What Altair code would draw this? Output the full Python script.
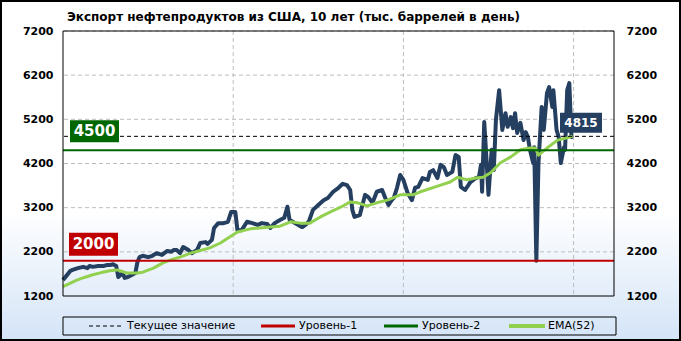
import altair as alt
import pandas as pd

title_text = "Экспорт нефтепродуктов из США, 10 лет (тыс. баррелей в день)"
x_tick_weeks = [0, 160, 320, 480]
x_tick_labels = ["30.01.2009", "24.02.2012", "20.03.2015", "09.05.2018"]
y_ticks = [1200, 2200, 3200, 4200, 5200, 6200, 7200]
level1 = 2000
level2 = 4500
legend_labels = ["Текущее значение", "Уровень-1", "Уровень-2", "EMA(52)"]

dark_weeks = [0, 3, 7, 9, 14, 19, 23, 25, 28, 33, 38, 41, 44, 47, 50, 52, 56, 58, 61, 65,
              68, 70, 72, 75, 80, 84, 88, 93, 98, 102, 104, 107, 110, 113, 118, 121, 126, 129, 134, 136,
              140, 142, 146, 151, 155, 158, 162, 164, 168, 173, 178, 183, 187, 192, 195, 199, 204, 208, 211, 213,
              216, 221, 225, 228, 231, 235, 240, 245, 249, 254, 259, 263, 267, 270, 272, 274, 279, 284, 287, 291,
              295, 300, 303, 306, 309, 311, 314, 317, 320, 324, 328, 331, 334, 338, 343, 345, 348, 352, 355, 358,
              361, 366, 369, 372, 374, 378, 383, 388, 391, 393, 394, 396, 398, 400, 403, 405, 407, 410, 413, 416,
              418, 421, 423, 425, 427, 430, 433, 435, 437, 439, 442, 443, 445, 447, 450, 452, 455, 457, 460, 461,
              464, 466, 468, 471, 472, 474, 476, 478, 479]
dark_values = [1560, 1650, 1770, 1790, 1830, 1860, 1830, 1880, 1860, 1880, 1880, 1900, 1900, 1920, 1880, 1630, 1720, 1610, 1630, 1680,
               1720, 1970, 2080, 2110, 2080, 2110, 2170, 2130, 2220, 2200, 2240, 2240, 2170, 2310, 2240, 2170, 2240, 2400, 2420, 2380,
               2470, 2740, 2850, 2850, 2880, 3100, 3100, 2690, 2690, 2880, 2850, 2810, 2850, 2830, 2740, 2850, 2920, 2970, 3220, 2920,
               2880, 2810, 2760, 2810, 2880, 3150, 3260, 3370, 3420, 3560, 3650, 3740, 3710, 3600, 3150, 2990, 3030, 3490, 3440, 3310,
               3560, 3600, 3420, 3260, 3370, 3420, 3650, 3940, 3830, 3530, 3370, 3650, 3670, 3870, 3830, 4010, 4050, 3870, 4170, 4120,
               3940, 4010, 4390, 4350, 3670, 3600, 3780, 3870, 3890, 4170, 3560, 5140, 4350, 3490, 4510, 4050, 5190, 5860, 4960, 5340,
               5030, 5250, 5000, 5340, 4890, 5120, 4730, 4910, 4800, 4510, 4210, 4570, 2000, 4210, 5480, 4960, 5800, 5930, 5480, 5860,
               4960, 4800, 4210, 4570, 4510, 5860, 6020, 4800, 4815]

ema_weeks = [0, 7, 13, 20, 28, 36, 44, 51, 60, 70, 75, 85, 94, 104, 110, 120, 129, 138, 148, 157,
             164, 176, 185, 195, 204, 214, 223, 232, 242, 251, 261, 270, 277, 286, 295, 305, 317, 329, 336, 355,
             364, 371, 380, 388, 395, 402, 411, 421, 430, 439, 444, 447, 455, 465, 474, 479]
ema_values = [1410, 1490, 1560, 1620, 1680, 1730, 1770, 1790, 1720, 1720, 1740, 1830, 1950, 2040, 2080, 2170, 2230, 2290, 2400, 2540,
              2650, 2720, 2740, 2760, 2780, 2880, 2850, 2850, 2990, 3100, 3210, 3330, 3310, 3240, 3310, 3370, 3490, 3490, 3560, 3710,
              3780, 3890, 3830, 3870, 3890, 3990, 4210, 4350, 4510, 4550, 4550, 4390, 4550, 4730, 4780, 4820]

W, H = 551, 265
XMAX = 518
FONT = "DejaVu Sans"
NAVY = "#243f60"
GREEN = "#006600"
RED = "#c00000"
LIME = "#92d050"

df = pd.DataFrame({"week": dark_weeks, "value": dark_values})
ema = pd.DataFrame({"week": ema_weeks, "value": ema_values})
last = pd.DataFrame({"week": [dark_weeks[-1]], "value": [dark_values[-1]]})
one = pd.DataFrame({"k": [0]})
lv1 = pd.DataFrame({"v": [level1]})
lv2 = pd.DataFrame({"v": [level2]})

xs = alt.Scale(domain=[0, XMAX], nice=False, zero=False)
ys = alt.Scale(domain=[y_ticks[0], y_ticks[-1]], nice=False, zero=False)

label_expr = " : ".join(f"datum.value == {w} ? '{l}'" for w, l in zip(x_tick_weeks, x_tick_labels)) + " : ''"

axis_common = dict(grid=False, ticks=False, domain=False, title=None, zindex=1,
                   labelFont=FONT, labelFontWeight="bold", labelFontSize=11, labelColor="black")
x_axis = alt.Axis(values=x_tick_weeks, labelExpr=label_expr, labelFlush=False, labelPadding=6, **axis_common)
left_axis = alt.Axis(orient="left", values=y_ticks, format="d", labelPadding=10, **axis_common)
right_axis = alt.Axis(orient="right", values=y_ticks, format="d", labelPadding=12, **axis_common)

def Yq(field, axis=None):
    return alt.Y(field, type="quantitative", scale=ys, axis=axis)

def Xq(field, axis=None):
    return alt.X(field, type="quantitative", scale=xs, axis=axis)

gradient = alt.LinearGradient(
    gradient="linear",
    stops=[alt.GradientStop(color="#ffffff", offset=0),
           alt.GradientStop(color="#ffffff", offset=0.62),
           alt.GradientStop(color="#d4e4f7", offset=1)],
    x1=0, x2=0, y1=0, y2=1)

bg = alt.Chart(one).mark_rect(fill=gradient, stroke="black", strokeWidth=2).encode(
    x=alt.value(-62), x2=alt.value(617), y=alt.value(-30), y2=alt.value(309))

hgrid = alt.Chart(pd.DataFrame({"v": y_ticks[1:]})).mark_rule(
    color="#bdbdbd", strokeDash=[4, 3], strokeWidth=1).encode(y=Yq("v"))
vgrid = alt.Chart(pd.DataFrame({"w": x_tick_weeks[1:]})).mark_rule(
    color="#bdbdbd", strokeDash=[4, 3], strokeWidth=1).encode(x=Xq("w"))

dark = alt.Chart(df).mark_line(color=NAVY, strokeWidth=4, strokeJoin="round").encode(
    x=Xq("week", x_axis), y=Yq("value", left_axis))
ema_line = alt.Chart(ema).mark_line(color=LIME, strokeWidth=3, strokeJoin="round").encode(
    x=Xq("week"), y=Yq("value", right_axis))

red_line = alt.Chart(lv1).mark_rule(color=RED, strokeWidth=2).encode(y=Yq("v"))
green_line = alt.Chart(lv2).mark_rule(color=GREEN, strokeWidth=2).encode(y=Yq("v"))
cur_line = alt.Chart(last).mark_rule(color="black", strokeWidth=1, strokeDash=[4, 3]).encode(y=Yq("value"))

box2 = alt.Chart(lv2).mark_rect(color=GREEN, yOffset=-30, y2Offset=-8).encode(
    x=alt.value(7), x2=alt.value(56), y=Yq("v"), y2="v")
box2t = alt.Chart(lv2).mark_text(color="white", font=FONT, fontWeight="bold", fontSize=15, dy=-19,
                                 align="center", baseline="middle").encode(
    x=alt.value(31.5), y=Yq("v"), text=alt.Text("v:Q", format="d"))
box1 = alt.Chart(lv1).mark_rect(color=RED, yOffset=-28, y2Offset=-5).encode(
    x=alt.value(6), x2=alt.value(55), y=Yq("v"), y2="v")
box1t = alt.Chart(lv1).mark_text(color="white", font=FONT, fontWeight="bold", fontSize=15, dy=-16.5,
                                 align="center", baseline="middle").encode(
    x=alt.value(30.5), y=Yq("v"), text=alt.Text("v:Q", format="d"))
boxc = alt.Chart(last).mark_rect(color=NAVY, xOffset=-12.5, x2Offset=29.5, yOffset=-23.5, y2Offset=-3.5).encode(
    x=Xq("week"), x2="week", y=Yq("value"), y2="value")
boxct = alt.Chart(last).mark_text(color="white", font=FONT, fontWeight="bold", fontSize=12, dx=8.5, dy=-13.5,
                                  align="center", baseline="middle").encode(
    x=Xq("week"), y=Yq("value"), text=alt.Text("value:Q", format="d"))

frame = alt.Chart(one).mark_rect(fillOpacity=0, stroke="black", strokeWidth=1).encode(
    x=alt.value(0), x2=alt.value(W), y=alt.value(0), y2=alt.value(H))

title = alt.Chart(one).mark_text(text=title_text, align="left", baseline="middle", font=FONT,
                                 fontSize=12, fontWeight="bold", color="black").encode(
    x=alt.value(4), y=alt.value(-14))

LY = 295
leg_box = alt.Chart(one).mark_rect(fillOpacity=0, stroke="black", strokeWidth=1).encode(
    x=alt.value(0), x2=alt.value(553), y=alt.value(286), y2=alt.value(304))
leg_items = []
sym = [(26, 59, "black", 1, [4, 3]), (198, 232, RED, 3, None), (321, 355, GREEN, 3, None), (446, 482, LIME, 4, None)]
txt_x = [64, 236, 359, 485]
for (x1, x2, c, sw, dash), tx, lab in zip(sym, txt_x, legend_labels):
    kw = dict(color=c, strokeWidth=sw)
    if dash:
        kw["strokeDash"] = dash
    leg_items.append(alt.Chart(one).mark_rule(**kw).encode(
        x=alt.value(x1), x2=alt.value(x2), y=alt.value(LY)))
    leg_items.append(alt.Chart(one).mark_text(text=lab, align="left", baseline="middle", font=FONT,
                                              fontSize=11, color="black").encode(
        x=alt.value(tx), y=alt.value(LY)))

chart = alt.layer(
    bg, hgrid, vgrid, dark, ema_line, red_line, green_line, cur_line,
    box2, box2t, box1, box1t, boxc, boxct, frame, title, leg_box, *leg_items
).resolve_scale(y="independent").properties(
    width=W, height=H,
    padding={"left": 63, "top": 31, "right": 67, "bottom": 45},
    autosize=alt.AutoSizeParams(type="none"),
).configure_view(strokeWidth=0).configure(background="white")

chart.save("out.html", embed_options={"renderer": "svg", "actions": False})
